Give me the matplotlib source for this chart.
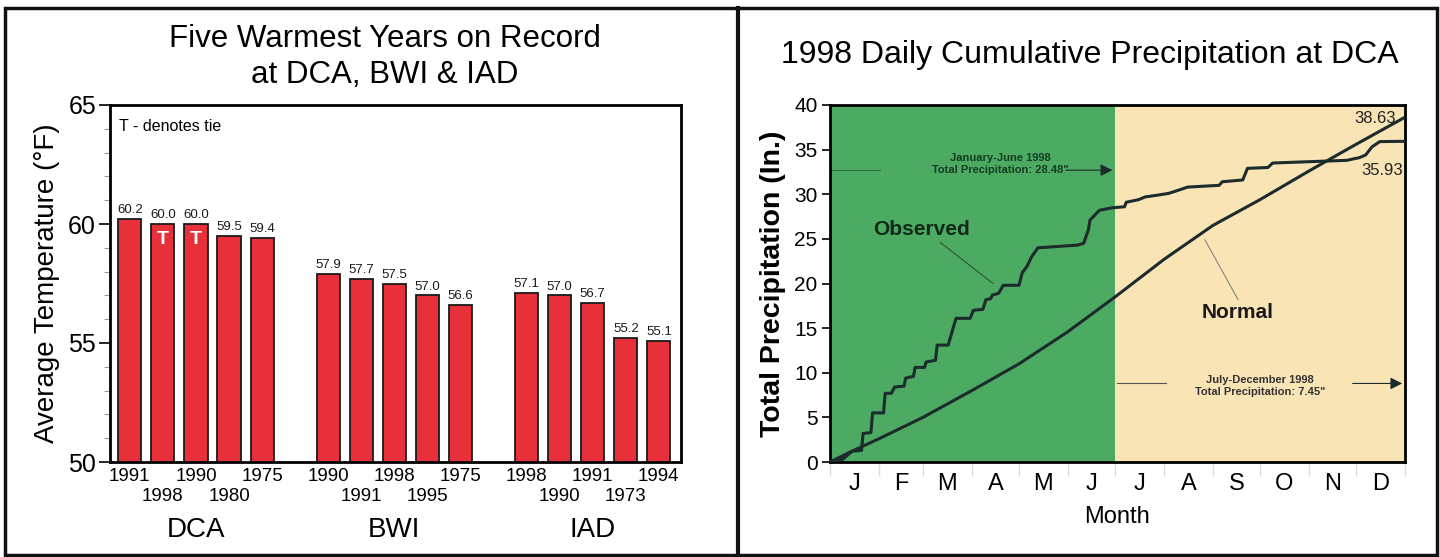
import numpy as np
import matplotlib.pyplot as plt
import matplotlib.transforms as mtransforms
from matplotlib.patches import Rectangle
from matplotlib.lines import Line2D

plt.rcParams['font.family'] = ['Liberation Sans', 'DejaVu Sans']

# left chart data
stations = ['DCA', 'BWI', 'IAD']
years_dca = ['1991', '1998', '1990', '1980', '1975']
temps_dca = [60.2, 60.0, 60.0, 59.5, 59.4]
years_bwi = ['1990', '1991', '1998', '1995', '1975']
temps_bwi = [57.9, 57.7, 57.5, 57.0, 56.6]
years_iad = ['1998', '1990', '1991', '1973', '1994']
temps_iad = [57.1, 57.0, 56.7, 55.2, 55.1]
ties_dca = [False, True, True, False, False]

# right chart data (day of year, cumulative inches)
obs_days = [0, 8, 14, 20, 21, 26, 27, 34, 35, 39, 41, 47, 48, 53, 54, 60, 61, 67, 68, 75,
            80, 89, 91, 97, 99, 102, 103, 107, 110, 120, 122, 125, 128, 132, 157, 161, 164,
            165, 171, 179, 187, 188, 196, 200, 208, 215, 222, 227, 247, 249, 262, 265, 278,
            281, 328, 336, 340, 344, 349, 365]
obs_precip = [0, 0.3, 1.2, 1.3, 3.2, 3.3, 5.5, 5.5, 7.7, 7.7, 8.4, 8.5, 9.4, 9.6, 10.6, 10.6,
              11.2, 11.4, 13.1, 13.1, 16.1, 16.1, 17.0, 17.1, 18.2, 18.3, 18.7, 18.9, 19.8,
              19.8, 21.2, 21.9, 23.0, 24.0, 24.3, 24.5, 26.0, 27.1, 28.2, 28.48, 28.6, 29.1,
              29.4, 29.7, 29.9, 30.1, 30.5, 30.8, 31.0, 31.4, 31.6, 32.9, 33.0, 33.5, 33.8,
              34.1, 34.4, 35.3, 35.9, 35.93]
norm_days = [0, 15, 31, 59, 90, 120, 151, 181, 212, 243, 273, 304, 334, 365]
norm_precip = [0, 1.3, 2.6, 5.0, 8.0, 11.0, 14.6, 18.5, 22.7, 26.5, 29.4, 32.6, 35.6, 38.63]
month_labels = ['J', 'F', 'M', 'A', 'M', 'J', 'J', 'A', 'S', 'O', 'N', 'D']
month_starts = [0, 31, 59, 90, 120, 151, 181, 212, 243, 273, 304, 334, 365]

W, H = 1440, 557
fig = plt.figure(figsize=(W / 100, H / 100), dpi=100)

def fx(px):
    return px / W

def fy(py):
    return 1 - py / H

# panel frames
fig.add_artist(Rectangle((fx(5), fy(555)), fx(1432), (547) / H, transform=fig.transFigure,
                         fill=False, lw=2.5, ec='#111111'))
fig.add_artist(Line2D([fx(738), fx(738)], [fy(8), fy(555)], transform=fig.transFigure,
                      lw=3, color='#111111'))

# ---------------- left: bar chart ----------------
ax1 = fig.add_axes([fx(110), fy(462), fx(681 - 110), (462 - 105) / H])
temps = temps_dca + temps_bwi + temps_iad
years = years_dca + years_bwi + years_iad
pos = []
for g in range(3):
    pos += [g * 6 + i for i in range(5)]
ax1.bar(pos, temps, width=0.7, color='#e8303a', edgecolor='#1a1a1a', lw=1.3, zorder=2)
for p, t in zip(pos, temps):
    ax1.text(p, t + 0.12, f'{t:.1f}', ha='center', va='bottom', fontsize=9.5, color='#1a1a1a')
for p, t, tie in zip(pos[:5], temps_dca, ties_dca):
    if tie:
        ax1.text(p, t - 0.65, 'T', ha='center', va='center', fontsize=14,
                 fontweight='bold', color='white')
ax1.set_ylim(50, 65)
ax1.set_xlim(-0.6, 16.67)
ax1.set_yticks([50, 55, 60, 65])
ax1.set_yticks(np.arange(50, 66, 1), minor=True)
ax1.tick_params(axis='y', which='major', length=8, width=1.2, labelsize=18, pad=2)
ax1.tick_params(axis='y', which='minor', length=4, width=0.8, color='#999999')

# years alternate between two rows under the bars
top_pos = [p for p in pos if (p % 6) % 2 == 0]
top_years = [y for p, y in zip(pos, years) if (p % 6) % 2 == 0]
ax1.set_xticks(top_pos)
ax1.set_xticklabels(top_years, fontsize=13.5)
ax1.tick_params(axis='x', length=0, pad=4)
trans1 = mtransforms.blended_transform_factory(ax1.transData, ax1.transAxes)
for p, y in zip(pos, years):
    if (p % 6) % 2 == 1:
        ax1.text(p, -0.098, y, transform=trans1, ha='center', va='center', fontsize=13.5)
for s in ax1.spines.values():
    s.set_linewidth(2)
ax1.set_ylabel('Average Temperature (°F)', fontsize=20, labelpad=6)
for g, st in enumerate(stations):
    ax1.text(g * 6 + 2, -0.19, st, transform=trans1, ha='center', va='center', fontsize=20)
ax1.text(0.015, 0.94, 'T - denotes tie', transform=ax1.transAxes, fontsize=11.5,
         ha='left', va='center')
fig.text(fx(385), fy(57), 'Five Warmest Years on Record\nat DCA, BWI & IAD', ha='center',
         va='center', fontsize=22.5, linespacing=1.25)

# ---------------- right: cumulative precipitation ----------------
ax2 = fig.add_axes([fx(830), fy(462), fx(1405 - 830), (462 - 105) / H])
ax2.axvspan(0, 181, color='#4caa62', zorder=0, lw=0)
ax2.axvspan(181, 365, color='#f9e4b6', zorder=0, lw=0)
ax2.plot(norm_days, norm_precip, color='#1c2b2b', lw=2.2, zorder=3)
ax2.plot(obs_days, obs_precip, color='#1c2b2b', lw=2.2, zorder=3)
ax2.set_xlim(0, 365)
ax2.set_ylim(0, 40)
ax2.set_yticks(np.arange(0, 41, 5))
ax2.tick_params(axis='y', length=6, width=1.2, labelsize=15, pad=3)
mids = [(a + b) / 2 for a, b in zip(month_starts[:-1], month_starts[1:])]
ax2.set_xticks(mids)
ax2.set_xticklabels(month_labels, fontsize=17)
ax2.tick_params(axis='x', which='major', length=0, pad=8)
ax2.set_xticks(month_starts, minor=True)
ax2.tick_params(axis='x', which='minor', length=10, width=1, color='#dddddd')
for s in ax2.spines.values():
    s.set_linewidth(2)
ax2.set_ylabel('Total Precipitation (In.)', fontsize=20.5, fontweight='bold', labelpad=6)
ax2.set_xlabel('Month', fontsize=17, labelpad=8)

dg = '#143d22'
ax2.plot([0, 32], [32.7, 32.7], color='#2e6e40', lw=0.8)
ax2.annotate('', xy=(181, 32.7), xytext=(148, 32.7),
             arrowprops=dict(arrowstyle='-|>', color='#1c2b2b', lw=0.8, mutation_scale=18))
ax2.text(108, 33.4, 'January-June 1998\nTotal Precipitation: 28.48"', ha='center',
         va='center', fontsize=8, fontweight='bold', color=dg, linespacing=1.2)
ax2.plot([182, 213], [8.8, 8.8], color='#555555', lw=0.8)
ax2.annotate('', xy=(365, 8.8), xytext=(330, 8.8),
             arrowprops=dict(arrowstyle='-|>', color='#1c2b2b', lw=0.8, mutation_scale=18))
ax2.text(273, 8.5, 'July-December 1998\nTotal Precipitation: 7.45"', ha='center',
         va='center', fontsize=8, fontweight='bold', color='#333333', linespacing=1.2)

ax2.text(58, 26.0, 'Observed', ha='center', va='center', fontsize=15, fontweight='bold',
         color='#0f2a18')
ax2.plot([70, 103.5], [24.6, 20.0], color='#2a4a35', lw=0.7)
ax2.text(259, 16.8, 'Normal', ha='center', va='center', fontsize=15, fontweight='bold',
         color='#1a1a1a')
ax2.plot([259, 238], [18.2, 24.9], color='#777777', lw=0.7)
ax2.text(359, 38.5, '38.63', ha='right', va='center', fontsize=12, color='#222222')
ax2.text(364, 32.7, '35.93', ha='right', va='center', fontsize=12, color='#222222')

fig.text(fx(1090), fy(55), '1998 Daily Cumulative Precipitation at DCA', ha='center',
         va='center', fontsize=23)

fig.savefig('out.png', dpi=100)
